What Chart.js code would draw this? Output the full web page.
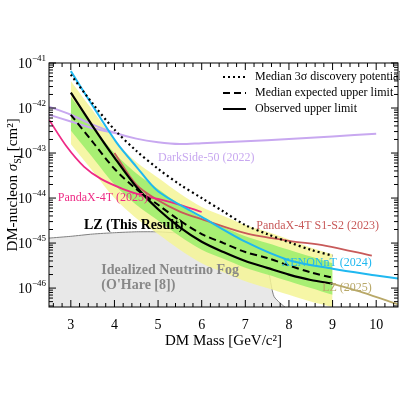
<!DOCTYPE html>
<html>
<head>
<meta charset="utf-8">
<script src="https://cdn.jsdelivr.net/npm/chart.js@4.4.1/dist/chart.umd.min.js"></script>
<style>
  html, body { margin: 0; padding: 0; background: #fff; }
  #wrap { width: 400px; height: 400px; }
</style>
</head>
<body>
<div id="wrap"><canvas id="c" width="400" height="400"></canvas></div>
<script>
// 数据（纵轴以 log10 指数保存）
const lzMass = [3, 3.5, 4, 4.5, 5, 5.5, 6, 6.5, 7, 7.5, 8, 8.5, 9];
const observed = [-41.66, -42.4, -43.1, -43.75, -44.25, -44.65, -44.97, -45.2, -45.4, -45.55, -45.7, -45.82, -45.9];
const expected = [-42.15, -42.75, -43.35, -43.8, -44.15, -44.5, -44.8, -45.0, -45.2, -45.33, -45.5, -45.65, -45.77];
const discovery = [-41.26, -41.9, -42.48, -42.95, -43.35, -43.7, -44.0, -44.3, -44.6, -44.8, -44.98, -45.15, -45.28];
const yellowHi = [-41.4, -42.05, -42.7, -43.2, -43.55, -43.9, -44.2, -44.4, -44.6, -44.75, -44.92, -45.1, -45.25];
const yellowLo = [-42.8, -43.4, -44.0, -44.45, -44.8, -45.15, -45.45, -45.65, -45.85, -46.0, -46.15, -46.3, -46.42];
const greenHi = [-41.75, -42.4, -43.0, -43.45, -43.8, -44.15, -44.45, -44.65, -44.85, -45.0, -45.15, -45.3, -45.45];
const greenLo = [-42.5, -43.1, -43.7, -44.15, -44.5, -44.85, -45.15, -45.35, -45.55, -45.7, -45.85, -46.0, -46.15];

const xenonMass = [3, 3.5, 4.05, 4.5, 5, 6, 7, 8, 9, 10, 10.5];
const xenon = [-41.18, -41.95, -42.77, -43.3, -43.85, -44.42, -44.97, -45.38, -45.57, -45.72, -45.79];

const pandaOldMass = [4, 4.5, 5, 5.5, 6, 7, 8, 8.85, 9.9];
const pandaOld = [-43.0, -43.7, -44.05, -44.3, -44.47, -44.78, -44.95, -45.06, -45.28];

const pandaNewMass = [2.5, 2.9, 3.3, 3.7, 4.2, 4.6, 5, 5.5, 6];
const pandaNew = [-42.26, -42.85, -43.3, -43.58, -43.8, -43.93, -44.02, -44.15, -44.31];

const darksideMass = [2.5, 3, 3.5, 4, 4.5, 5, 5.5, 6, 7, 8, 9, 10];
const darksideA = [-41.97, -42.15, -42.37, -42.55, -42.68, -42.76, -42.8, -42.78, -42.74, -42.69, -42.63, -42.57];
const darksideBMass = [2.5, 3, 3.5, 4];
const darksideB = [-42.15, -42.3, -42.45, -42.55];

const lz2025Mass = [9, 9.7, 10.5];
const lz2025 = [-45.9, -46.1, -46.36];

const fogMass = [2.5, 3, 3.5, 4, 4.5, 5, 5.5, 6, 6.5, 7, 7.5, 7.66, 8];
const fog = [-44.89, -44.85, -44.8, -44.77, -44.75, -44.75, -44.78, -44.83, -44.95, -45.2, -45.57, -46.19, -46.5];

const xTicks = [3, 4, 5, 6, 7, 8, 9, 10];
const yTicks = [-46, -45, -44, -43, -42, -41];

const SERIF = '"Liberation Serif", "DejaVu Serif", serif';
const pts = (xs, ys) => xs.map((x, i) => ({ x: x, y: Math.pow(10, ys[i]) }));

function line(data, color, width, extra) {
  return Object.assign({ data: data, borderColor: color, borderWidth: width, pointRadius: 0, fill: false, tension: 0.3 }, extra || {});
}

const datasets = [
  line(pts(fogMass, fog), '#808080', 1, { fill: { value: 1e-48 }, backgroundColor: '#e8e8e8', tension: 0.2 }),
  line(pts(lzMass, yellowHi), 'rgba(0,0,0,0)', 0),
  line(pts(lzMass, yellowLo), 'rgba(0,0,0,0)', 0, { fill: '-1', backgroundColor: 'rgba(245,245,150,0.85)' }),
  line(pts(lzMass, greenHi), 'rgba(0,0,0,0)', 0),
  line(pts(lzMass, greenLo), 'rgba(0,0,0,0)', 0, { fill: '-1', backgroundColor: 'rgba(160,238,110,0.9)' }),
  line(pts(darksideMass, darksideA), '#c8a8f0', 2),
  line(pts(darksideBMass, darksideB), '#c8a8f0', 2),
  line(pts(lz2025Mass, lz2025), '#b8a868', 1.8),
  line(pts(pandaOldMass, pandaOld), '#c85a5a', 1.8),
  line(pts(pandaNewMass, pandaNew), '#ee2a85', 1.8),
  line(pts(xenonMass, xenon), '#20b8f0', 2),
  line(pts(lzMass, discovery), '#000', 2.2, { borderDash: [2, 3] }),
  line(pts(lzMass, expected), '#000', 2, { borderDash: [7, 4] }),
  line(pts(lzMass, observed), '#000', 2.2)
];
// 后面的数据集画在上层
datasets.forEach((d, i) => { d.order = datasets.length - i; });

const labels = [
  { text: 'DarkSide-50 (2022)', x: 5.0, y: -43.1, color: '#c8a8f0', align: 'left' },
  { text: 'PandaX-4T (2025)', x: 2.7, y: -44.0, color: '#ee2a85', align: 'left' },
  { text: 'PandaX-4T S1-S2 (2023)', x: 7.25, y: -44.62, color: '#c85a5a', align: 'left' },
  { text: 'XENONnT (2024)', x: 9.9, y: -45.43, color: '#20b8f0', align: 'right' },
  { text: 'LZ (2025)', x: 9.9, y: -46.0, color: '#b8a868', align: 'right' },
  { text: 'LZ (This Result)', x: 3.3, y: -44.6, color: '#000', align: 'left', bold: true, size: 14 },
  { text: 'Idealized Neutrino Fog', x: 3.7, y: -45.6, color: '#888', align: 'left', bold: true, size: 14 },
  { text: "(O'Hare [8])", x: 3.7, y: -45.95, color: '#888', align: 'left', bold: true, size: 14 }
];

const legendItems = [
  { text: 'Median 3σ discovery potential', dash: [2, 3] },
  { text: 'Median expected upper limit', dash: [7, 4] },
  { text: 'Observed upper limit', dash: [] }
];

const decor = {
  id: 'decor',
  afterDraw(chart) {
    const ctx = chart.ctx, a = chart.chartArea;
    const xs = chart.scales.x, ys = chart.scales.y;
    ctx.save();
    // 边框与内向刻度
    ctx.strokeStyle = '#000'; ctx.lineWidth = 1;
    ctx.strokeRect(a.left, a.top, a.right - a.left, a.bottom - a.top);
    for (let v = 2.6; v < 10.5; v += 0.2) {
      const px = xs.getPixelForValue(v);
      const major = Math.abs(v - Math.round(v)) < 0.01;
      const len = major ? 7 : 4;
      ctx.beginPath();
      ctx.moveTo(px, a.bottom); ctx.lineTo(px, a.bottom - len);
      ctx.moveTo(px, a.top); ctx.lineTo(px, a.top + len);
      ctx.stroke();
    }
    for (let e = -47; e <= -41; e++) {
      for (let m = 1; m < 10; m++) {
        const v = m * Math.pow(10, e);
        if (v < ys.min || v > ys.max) continue;
        const py = ys.getPixelForValue(v);
        const len = m === 1 ? 7 : 4;
        ctx.beginPath();
        ctx.moveTo(a.left, py); ctx.lineTo(a.left + len, py);
        ctx.moveTo(a.right, py); ctx.lineTo(a.right - len, py);
        ctx.stroke();
      }
    }
    // 纵轴刻度标签 10^n
    ctx.fillStyle = '#000'; ctx.textBaseline = 'alphabetic';
    yTicks.forEach(e => {
      const py = ys.getPixelForValue(Math.pow(10, e));
      ctx.font = '9px ' + SERIF; ctx.textAlign = 'right';
      const ex = '−' + Math.abs(e);
      const we = ctx.measureText(ex).width;
      ctx.fillText(ex, a.left - 3, py - 2);
      ctx.font = '14px ' + SERIF;
      ctx.fillText('10', a.left - 3 - we, py + 5);
    });
    // 曲线标注
    labels.forEach(l => {
      ctx.font = (l.bold ? 'bold ' : '') + (l.size || 12) + 'px ' + SERIF;
      ctx.fillStyle = l.color; ctx.textAlign = l.align; ctx.textBaseline = 'middle';
      ctx.fillText(l.text, xs.getPixelForValue(l.x), ys.getPixelForValue(Math.pow(10, l.y)));
    });
    // 图例
    ctx.font = '12px ' + SERIF; ctx.textAlign = 'left'; ctx.fillStyle = '#000';
    legendItems.forEach((it, i) => {
      const y = 77 + i * 16;
      ctx.beginPath(); ctx.setLineDash(it.dash); ctx.lineWidth = 2;
      ctx.moveTo(223, y); ctx.lineTo(246, y); ctx.stroke();
      ctx.setLineDash([]);
      ctx.fillText(it.text, 255, y);
    });
    // 轴标题
    ctx.font = '15px ' + SERIF; ctx.textAlign = 'center'; ctx.textBaseline = 'alphabetic';
    ctx.fillText('DM Mass [GeV/c²]', (a.left + a.right) / 2, 345);
    ctx.translate(17, (a.top + a.bottom) / 2);
    ctx.rotate(-Math.PI / 2);
    const p1 = 'DM-nucleon ', p3 = ' [cm²]';
    ctx.font = '15px ' + SERIF; const w1 = ctx.measureText(p1).width, w3 = ctx.measureText(p3).width;
    ctx.font = 'italic 15px ' + SERIF; const wS = ctx.measureText('σ').width;
    ctx.font = '10px ' + SERIF; const wSub = ctx.measureText('SI').width;
    let x0 = -(w1 + wS + wSub + w3) / 2;
    ctx.textAlign = 'left';
    ctx.font = '15px ' + SERIF; ctx.fillText(p1, x0, 0); x0 += w1;
    ctx.font = 'italic 15px ' + SERIF; ctx.fillText('σ', x0, 0); x0 += wS;
    ctx.font = '10px ' + SERIF; ctx.fillText('SI', x0, 4); x0 += wSub;
    ctx.font = '15px ' + SERIF; ctx.fillText(p3, x0, 0);
    ctx.restore();
  }
};

new Chart(document.getElementById('c'), {
  type: 'line',
  data: { datasets: datasets },
  plugins: [decor],
  options: {
    responsive: false,
    animation: false,
    layout: { padding: { top: 63, right: 2, left: 0, bottom: 0 } },
    plugins: { legend: { display: false }, tooltip: { enabled: false } },
    scales: {
      x: {
        type: 'linear', min: 2.5, max: 10.5,
        afterBuildTicks: s => { s.ticks = xTicks.map(v => ({ value: v })); },
        afterFit: s => { s.height = 93; },
        grid: { display: false }, border: { display: false },
        ticks: { color: '#000', font: { family: SERIF, size: 14 }, padding: 2, maxRotation: 0 }
      },
      y: {
        type: 'logarithmic', min: 3.8e-47, max: 1e-41,
        afterBuildTicks: s => { s.ticks = yTicks.map(e => ({ value: Math.pow(10, e) })); },
        afterFit: s => { s.width = 49; },
        grid: { display: false }, border: { display: false },
        ticks: { display: false }
      }
    }
  }
});
</script>
</body>
</html>
